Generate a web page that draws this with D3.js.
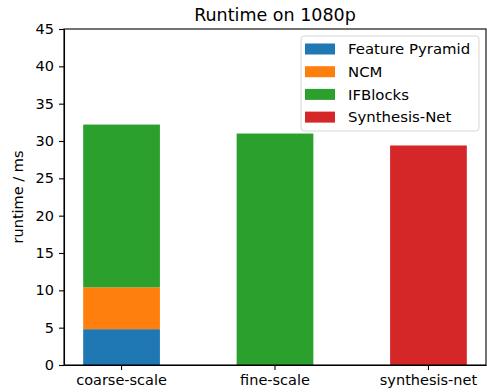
<!DOCTYPE html>
<html>
<head>
<meta charset="utf-8">
<script src="https://cdn.jsdelivr.net/npm/d3@7.9.0/dist/d3.min.js"></script>
<style>
  body { margin: 0; background: #fff; }
  svg { display: block; }
  svg text { font-family: "DejaVu Sans", sans-serif; fill: #000; }
  .axis text { font-size: 14.5px; }
  .axis path, .axis line { stroke: #000; stroke-width: 1.1; }
</style>
</head>
<body>
<div id="chart"></div>
<script>
const categories = ['coarse-scale', 'fine-scale', 'synthesis-net'];
const seriesNames = ['Feature Pyramid', 'NCM', 'IFBlocks', 'Synthesis-Net'];
const featurePyramid = [4.8, 0, 0];
const ncm = [5.6, 0, 0];
const ifBlocks = [21.8, 31.0, 0];
const synthesisNet = [0, 0, 29.4];
const colors = ['#1f77b4', '#ff7f0e', '#2ca02c', '#d62728'];
const yTicks = [0, 5, 10, 15, 20, 25, 30, 35, 40, 45];

const width = 487;
const height = 392;
const margin = { top: 29, right: 1, bottom: 27, left: 64 };

// one row per category, one column per series
const table = categories.map((c, i) => ({
    category: c,
    'Feature Pyramid': featurePyramid[i],
    'NCM': ncm[i],
    'IFBlocks': ifBlocks[i],
    'Synthesis-Net': synthesisNet[i],
}));
const stacked = d3.stack().keys(seriesNames)(table);

const svg = d3.select('#chart')
    .append('svg')
    .attr('width', width)
    .attr('height', height);

const x = d3.scaleBand()
    .domain(categories)
    .range([margin.left, width - margin.right])
    .paddingInner(0.5)
    .paddingOuter(0.125);

const y = d3.scaleLinear()
    .domain([0, 45])
    .range([height - margin.bottom, margin.top]);

const color = d3.scaleOrdinal().domain(seriesNames).range(colors);

svg.append('g')
    .selectAll('g')
    .data(stacked)
    .join('g')
    .attr('fill', (d) => color(d.key))
    .selectAll('rect')
    .data((d) => d.filter((p) => p[1] - p[0] > 0))
    .join('rect')
    .attr('x', (d) => x(d.data.category))
    .attr('width', x.bandwidth())
    .attr('y', (d) => y(d[1]))
    .attr('height', (d) => y(d[0]) - y(d[1]));

// axes
svg.append('g')
    .attr('class', 'axis')
    .attr('transform', `translate(0, ${height - margin.bottom})`)
    .call(d3.axisBottom(x).tickSize(5).tickPadding(5).tickSizeOuter(0));

svg.append('g')
    .attr('class', 'axis')
    .attr('transform', `translate(${margin.left}, 0)`)
    .call(d3.axisLeft(y).tickValues(yTicks).tickSize(5).tickPadding(5).tickSizeOuter(0));

// frame
svg.append('rect')
    .attr('x', margin.left)
    .attr('y', margin.top)
    .attr('width', width - margin.left - margin.right)
    .attr('height', height - margin.top - margin.bottom)
    .attr('fill', 'none')
    .attr('stroke', '#000')
    .attr('stroke-width', 1.1);

// title
svg.append('text')
    .attr('x', (margin.left + width - margin.right) / 2)
    .attr('y', 21)
    .attr('text-anchor', 'middle')
    .style('font-size', '17.5px')
    .text('Runtime on 1080p');

// y label
svg.append('text')
    .attr('transform', `translate(23, ${(margin.top + height - margin.bottom) / 2}) rotate(-90)`)
    .attr('text-anchor', 'middle')
    .style('font-size', '14.5px')
    .text('runtime / ms');

// legend
const legend = svg.append('g').attr('transform', 'translate(301, 36)');
legend.append('rect')
    .attr('width', 178)
    .attr('height', 95)
    .attr('rx', 3)
    .attr('fill', '#fff')
    .attr('fill-opacity', 0.8)
    .attr('stroke', '#d6d6d6');

const rows = legend.selectAll('g.item')
    .data(seriesNames)
    .join('g')
    .attr('class', 'item')
    .attr('transform', (d, i) => `translate(4, ${13 + i * 22.7})`);
rows.append('rect')
    .attr('y', -5.5)
    .attr('width', 30)
    .attr('height', 11)
    .attr('fill', (d) => color(d));
rows.append('text')
    .attr('x', 43)
    .attr('dy', '0.36em')
    .style('font-size', '14.9px')
    .text((d) => d);
</script>
</body>
</html>
